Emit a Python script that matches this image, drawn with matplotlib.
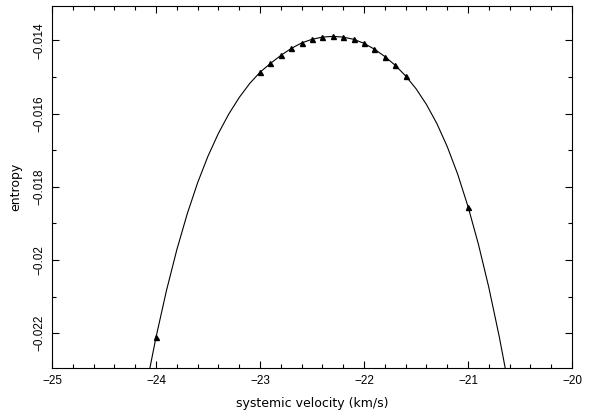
import matplotlib
matplotlib.use('Agg')
import matplotlib.pyplot as plt
from matplotlib.ticker import MultipleLocator, FuncFormatter

# entropy curve, every 0.1 km/s
curve_v = [-24.1, -24.0, -23.9, -23.8, -23.7, -23.6, -23.5, -23.4, -23.3, -23.2,
           -23.1, -23.0, -22.9, -22.8, -22.7, -22.6, -22.5, -22.4, -22.3, -22.2,
           -22.1, -22.0, -21.9, -21.8, -21.7, -21.6, -21.5, -21.4, -21.3, -21.2,
           -21.1, -21.0, -20.9, -20.8, -20.7, -20.6]
curve_s = [-0.02354, -0.02211, -0.02084, -0.01972, -0.01874, -0.01789, -0.01716,
           -0.01654, -0.01601, -0.01556, -0.01518, -0.01487, -0.01463, -0.01441,
           -0.01422, -0.01407, -0.01397, -0.01391, -0.01389, -0.01391, -0.01397,
           -0.01408, -0.01424, -0.01444, -0.01468, -0.01497, -0.01532, -0.01575,
           -0.01627, -0.01690, -0.01765, -0.01854, -0.01957, -0.02075, -0.02209,
           -0.02359]

# triangles (computed trial velocities)
point_v = [-24.0, -23.0, -22.9, -22.8, -22.7, -22.6, -22.5, -22.4, -22.3, -22.2,
           -22.1, -22.0, -21.9, -21.8, -21.7, -21.6, -21.0]
point_s = [-0.02211, -0.01487, -0.01463, -0.01441, -0.01422, -0.01407, -0.01397,
           -0.01391, -0.01389, -0.01391, -0.01397, -0.01408, -0.01424, -0.01444,
           -0.01468, -0.01497, -0.01854]

plt.rcParams['font.family'] = ['Liberation Sans', 'DejaVu Sans']
plt.rcParams['font.size'] = 8.5

fig = plt.figure(figsize=(5.95, 4.19), dpi=100)
ax = fig.add_axes([0.0874, 0.1217, 0.874, 0.864])

ax.plot(curve_v, curve_s, color='black', lw=0.8)
ax.plot(point_v, point_s, '^', color='black', ms=3.6, mec='black')

ax.set_xlim(-25, -20)
ax.set_ylim(-0.02295, -0.01306)

ax.xaxis.set_major_locator(MultipleLocator(1))
ax.xaxis.set_minor_locator(MultipleLocator(0.2))
ax.yaxis.set_major_locator(MultipleLocator(0.002))
ax.yaxis.set_minor_locator(MultipleLocator(0.001))

fmt = FuncFormatter(lambda v, p: ('%g' % v).replace('-', '\u2212'))
ax.xaxis.set_major_formatter(fmt)
ax.yaxis.set_major_formatter(fmt)

ax.tick_params(which='both', direction='in', top=True, right=True, width=0.8)
ax.tick_params(which='major', length=5, pad=5)
ax.tick_params(which='minor', length=3)
for lab in ax.get_yticklabels():
    lab.set_rotation(90)
    lab.set_va('center')

for sp in ax.spines.values():
    sp.set_linewidth(0.8)

ax.set_xlabel('systemic velocity (km/s)', labelpad=7, family='DejaVu Sans', fontsize=9)
ax.set_ylabel('entropy', labelpad=8, family='DejaVu Sans', fontsize=9)

fig.savefig('out.png', dpi=100)
